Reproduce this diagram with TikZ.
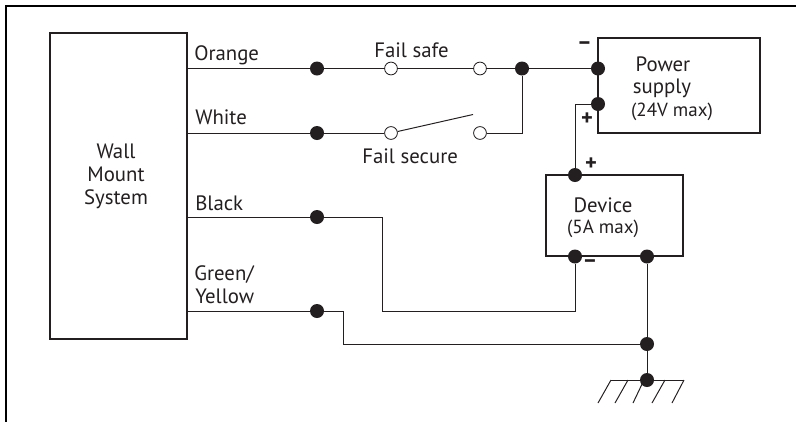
\documentclass[tikz,border=0pt]{standalone}
\usepackage{fontspec}
\setmainfont{PT Sans}
\usepackage{tikz}

\tikzset{
  inkline/.style={draw=ink, line width=0.7pt},
  boxline/.style={draw=ink, line width=1.5pt, fill=white},
  dot/.style={circle, fill=ink, inner sep=0pt, minimum size=0.35cm},
  contact/.style={circle, draw=ink, line width=0.6pt, fill=white, inner sep=0pt, minimum size=0.32cm},
  wirelabel/.style={anchor=base west, text=ink, inner sep=0pt, font=\fontsize{14.8}{16}\selectfont},
  boxlabel/.style={anchor=base, text=ink, inner sep=0pt, font=\fontsize{14.8}{16}\selectfont},
  smalllabel/.style={anchor=base, text=ink, inner sep=0pt, font=\fontsize{13.5}{14}\selectfont},
  polarity/.style={text=ink, inner sep=0pt, font=\bfseries\fontsize{16}{16}\selectfont}
}
\definecolor{ink}{HTML}{231F20}

\begin{document}
\begin{tikzpicture}[x=0.025cm, y=-0.025cm]

 \useasboundingbox (0,0) rectangle (796,422);

 % Outer frame, top and left only
 \coordinate (frametop) at (796,6);
 \coordinate (framecorner) at (6,6);
 \coordinate (framebottom) at (6,422);
 \draw [draw=black, line width=1.8pt] (frametop) -- (framecorner) -- (framebottom);

 % Boxes
 \node [boxline, minimum width=3.425cm, minimum height=7.65cm, inner sep=0pt] (wall) at (118.5,186) {};
 \node [boxline, minimum width=4.05cm, minimum height=2.375cm, inner sep=0pt] (power) at (679,85.5) {};
 \node [boxline, minimum width=3.425cm, minimum height=2.025cm, inner sep=0pt] (device) at (614.2,215.5) {};

 % Box texts
 \node [boxlabel] (walltext) at (116,158) {Wall};
 \node [boxlabel] (walltexttwo) at (116,181) {Mount};
 \node [boxlabel] (walltextthree) at (116,204) {System};
 \node [boxlabel] (powertext) at (663,71) {Power};
 \node [boxlabel] (powertexttwo) at (662,93) {supply};
 \node [smalllabel] (powermax) at (672,116) {(24V max)};
 \node [boxlabel] (devicetext) at (603,212) {Device};
 \node [smalllabel] (devicemax) at (603,233) {(5A max)};

 % Wire names
 \node [wirelabel] (orange) at (194,60) {Orange};
 \node [wirelabel] (white) at (195,124) {White};
 \node [wirelabel] (black) at (195,210) {Black};
 \node [wirelabel] (green) at (194,280) {Green/};
 \node [wirelabel] (yellow) at (195,303) {Yellow};
 \node [wirelabel] (failsafe) at (374,57) {Fail safe};
 \node [wirelabel] (failsecure) at (362,163) {Fail secure};

 % Dots on the wires
 \node [dot] (orangedot) at (317,68.5) {};
 \node [dot] (whitedot) at (317,133) {};
 \node [dot] (blackdot) at (317,217) {};
 \node [dot] (greendot) at (317,311) {};
 \node [dot] (joindot) at (522,68.5) {};

 % Contacts of the two switches
 \node [contact] (safeleft) at (391,68.5) {};
 \node [contact] (saferight) at (480,68.5) {};
 \node [contact] (secureleft) at (391,133) {};
 \node [contact] (secureright) at (480,133) {};
 \coordinate (lever) at (473,114.5);

 % Terminals
 \node [dot] (powerminus) at (598,68.5) {};
 \node [dot] (powerplus) at (598,104) {};
 \node [dot] (deviceplus) at (575,175) {};
 \node [dot] (deviceminus) at (575,256.5) {};
 \node [dot] (devicegnd) at (647,256.5) {};
 \node [dot] (gndjoin) at (647,344) {};
 \node [dot] (gnd) at (647,380) {};

 % Polarity marks
 \node [polarity] (minuspower) at (584.5,46) {–};
 \node [polarity] (pluspower) at (587,119) {+};
 \node [polarity] (plusdevice) at (591,164) {+};
 \node [polarity] (minusdevice) at (590,264) {–};

 % Orange and white
 \draw [inkline] (wall.east |- orangedot) -- (orangedot) -- (safeleft);
 \draw [inkline] (safeleft) -- (saferight) -- (joindot) -- (powerminus);
 \draw [inkline] (wall.east |- whitedot) -- (whitedot) -- (secureleft);
 \draw [inkline] (secureleft) -- (lever);
 \draw [inkline] (secureright) -| (joindot);

 % Power supply to device
 \draw [draw=ink, line width=1.8pt] (powerminus) -- (powerplus);
 \draw [inkline] (powerplus) -| (deviceplus);

 % Black
 \coordinate (blackdown) at (382,311);
 \draw [inkline] (wall.east |- blackdot) -- (blackdot);
 \draw [inkline] (blackdot) -| (blackdown) -| (deviceminus);

 % Green and yellow
 \coordinate (greendown) at (343,344);
 \draw [inkline] (wall.east |- greendot) -- (greendot);
 \draw [inkline] (greendot) -| (greendown) -- (gndjoin);

 % Ground
 \draw [inkline] (devicegnd) -- (gndjoin) -- (gnd);
 \coordinate (hatchleft) at (611,380);
 \coordinate (hatchright) at (684,380);
 \draw [inkline] (hatchleft) -- (hatchright);
 \foreach \top/\bottom in {611/598, 628/615, 644/633, 665/652, 684/672}
   \draw [inkline] (\top,380) -- (\bottom,403);

\end{tikzpicture}
\end{document}
